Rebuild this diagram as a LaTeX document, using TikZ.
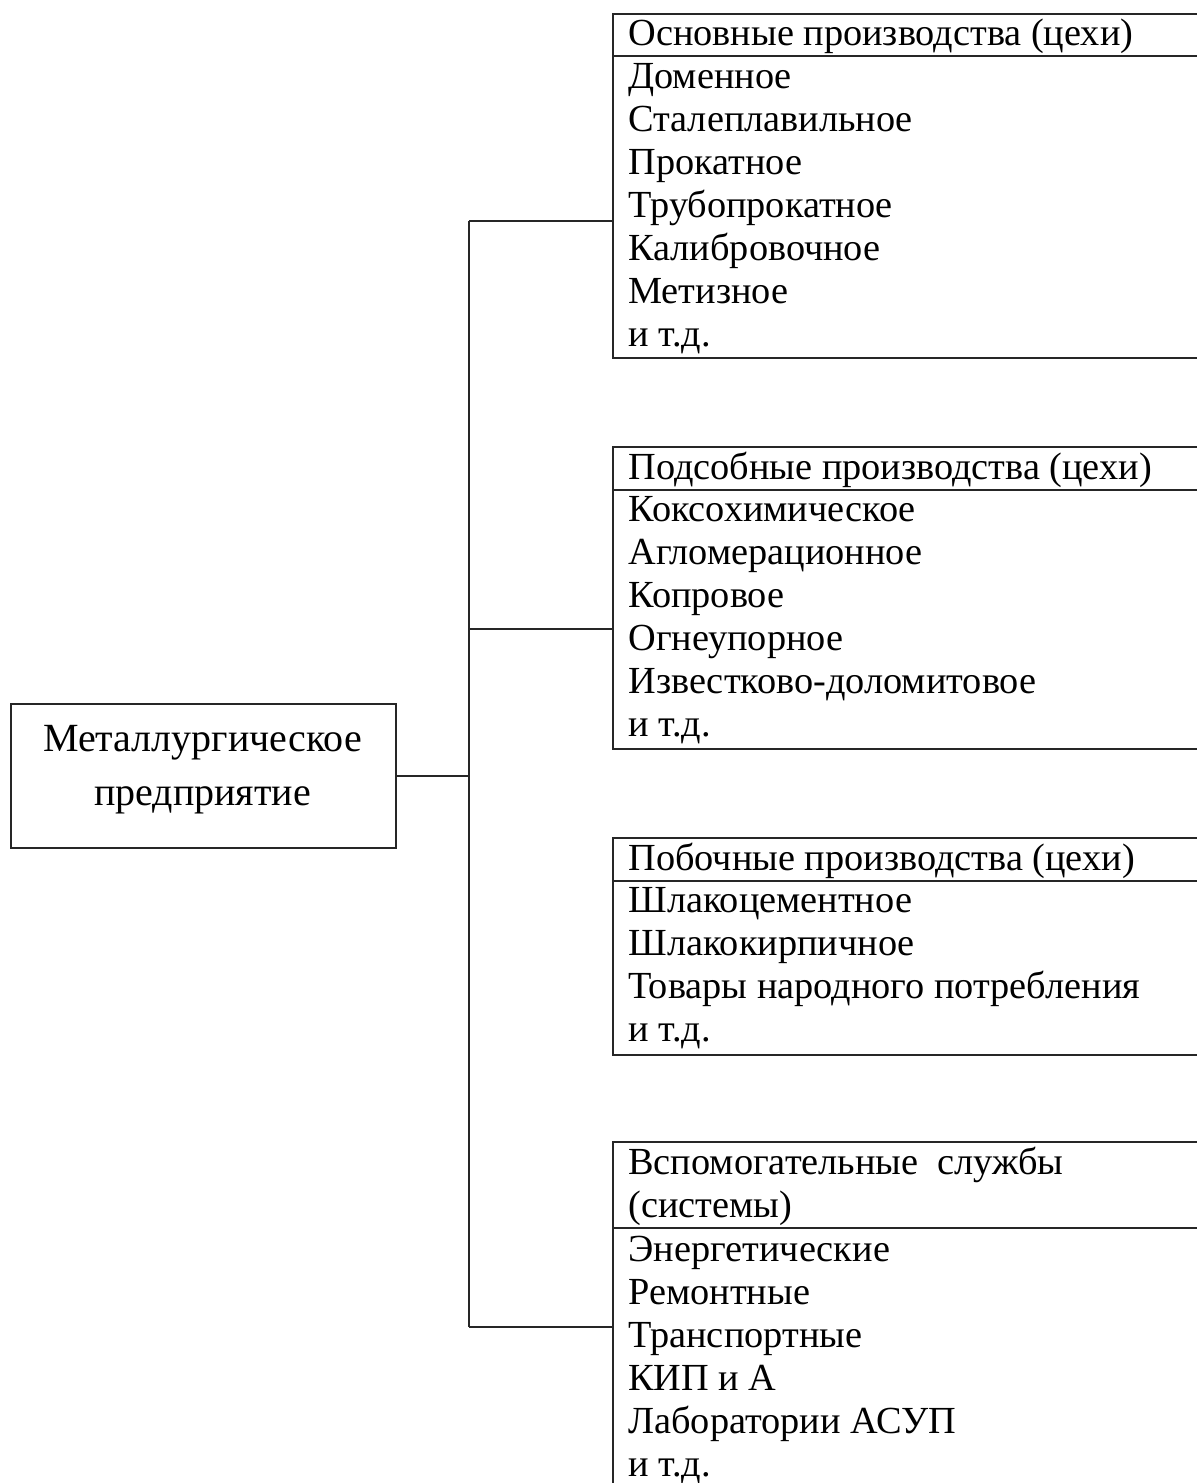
\documentclass[tikz,border=0pt]{standalone}
\usepackage{fontspec}
\setmainfont{Liberation Serif}
\begin{document}
\begin{tikzpicture}[x=0.5pt,y=-0.5pt,
  frame/.style={draw=black!85,line width=0.8pt,rectangle,inner sep=0pt,anchor=north west},
  conn/.style={draw=black!85,line width=0.8pt},
  txt/.style={anchor=base west,inner sep=0pt,font=\fontsize{19.15pt}{21.5pt}\selectfont},
  bigtxt/.style={anchor=base,inner sep=0pt,font=\fontsize{20pt}{27pt}\selectfont}]
\useasboundingbox (0,0) rectangle (1197,1483);
\clip (0,0) rectangle (1197,1483);
% left box
\node[frame,minimum width=192.5pt,minimum height=72pt] (L) at (10,703) {};
\node[bigtxt] (L1) at (202.5,751) {Металлургическое};
\node[bigtxt] (L2) at (202.5,805) {предприятие};
% box frames
\node[frame,minimum width=296.5pt,minimum height=172pt] (b1) at (612,13) {};
\node[frame,minimum width=296.5pt,minimum height=151pt] (b2) at (612,446) {};
\node[frame,minimum width=296.5pt,minimum height=108.5pt] (b3) at (612,837) {};
\node[frame,minimum width=296.5pt,minimum height=179.5pt] (b4) at (612,1141) {};
% header separators
\draw[conn] (612,56) -- (1205,56);
\draw[conn] (612,490) -- (1205,490);
\draw[conn] (612,881) -- (1205,881);
\draw[conn] (612,1228) -- (1205,1228);
% box 1 text
\node[txt] (h1) at (628,46) {Основные производства (цехи)};
\node[txt] (t11) at (628,88) {Доменное};
\node[txt] (t12) at (628,131) {Сталеплавильное};
\node[txt] (t13) at (628,174) {Прокатное};
\node[txt] (t14) at (628,217) {Трубопрокатное};
\node[txt] (t15) at (628,260) {Калибровочное};
\node[txt] (t16) at (628,303) {Метизное};
\node[txt] (t17) at (628,346) {и т.д.};
% box 2 text
\node[txt] (h2) at (628,479) {Подсобные производства (цехи)};
\node[txt] (t21) at (628,521) {Коксохимическое};
\node[txt] (t22) at (628,564) {Агломерационное};
\node[txt] (t23) at (628,607) {Копровое};
\node[txt] (t24) at (628,650) {Огнеупорное};
\node[txt] (t25) at (628,693) {Известково-доломитовое};
\node[txt] (t26) at (628,736) {и т.д.};
% box 3 text
\node[txt] (h3) at (628,870) {Побочные производства (цехи)};
\node[txt] (t31) at (628,912) {Шлакоцементное};
\node[txt] (t32) at (628,955) {Шлакокирпичное};
\node[txt] (t33) at (628,998) {Товары народного потребления};
\node[txt] (t34) at (628,1041) {и т.д.};
% box 4 text
\node[txt] (h4a) at (628,1174) {Вспомогательные\ \ службы};
\node[txt] (h4b) at (628,1217) {(системы)};
\node[txt] (t41) at (628,1261) {Энергетические};
\node[txt] (t42) at (628,1304) {Ремонтные};
\node[txt] (t43) at (628,1347) {Транспортные};
\node[txt] (t44) at (628,1390) {КИП и А};
\node[txt] (t45) at (628,1433) {Лаборатории АСУП};
\node[txt] (t46) at (628,1476) {и т.д.};
% connectors
\coordinate (j1) at (469,221);
\coordinate (j2) at (469,629);
\coordinate (j4) at (469,1327);
\draw[conn] (j1) -- (j4);
\draw[conn] (L.east) -- (L.east -| j1);
\draw[conn] (j1) -- (j1 -| b1.west);
\draw[conn] (j2) -- (j2 -| b2.west);
\draw[conn] (j4) -- (j4 -| b4.west);
\end{tikzpicture}
\end{document}
